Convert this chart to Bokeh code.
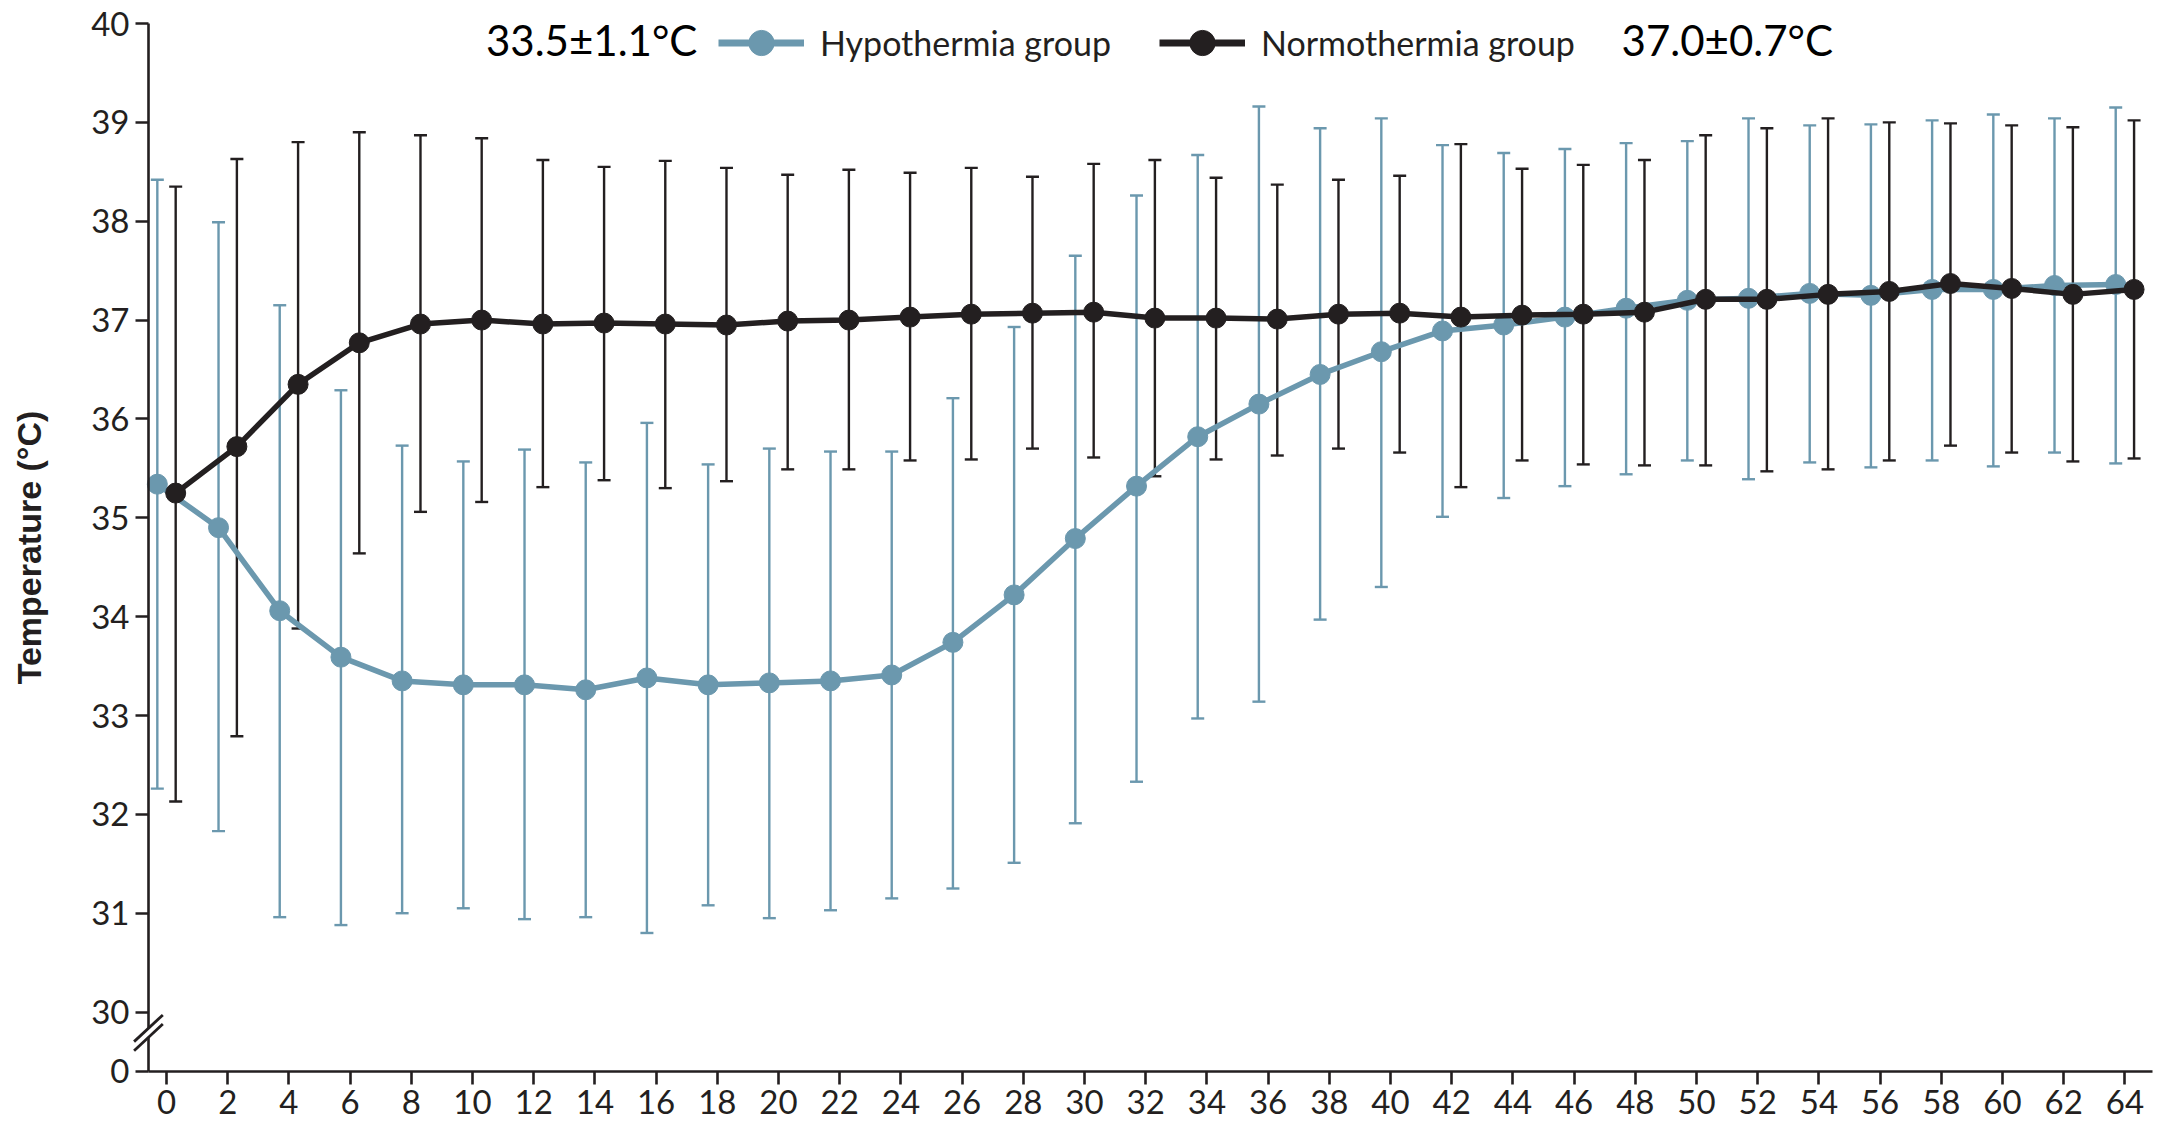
from bokeh.plotting import figure
from bokeh.models import (ColumnDataSource, Whisker, TeeHead, FixedTicker, Legend,
                          LegendItem, Label, Range1d)
from bokeh.embed import file_html
from bokeh.resources import INLINE

# ---------------- data ----------------
hours = list(range(0, 66, 2))

hypo_mean = [35.34, 34.90, 34.06, 33.59, 33.35, 33.31, 33.31, 33.26, 33.38, 33.31, 33.33,
             33.35, 33.41, 33.74, 34.22, 34.79, 35.32, 35.82, 36.15, 36.45, 36.68, 36.89,
             36.95, 37.03, 37.12, 37.20, 37.22, 37.27, 37.25, 37.31, 37.31, 37.35, 37.36]
hypo_upper = [38.42, 37.99, 37.15, 36.29, 35.73, 35.57, 35.69, 35.56, 35.96, 35.54, 35.70,
              35.67, 35.67, 36.21, 36.93, 37.65, 38.26, 38.67, 39.16, 38.94, 39.04, 38.77,
              38.69, 38.73, 38.79, 38.81, 39.04, 38.97, 38.98, 39.02, 39.08, 39.04, 39.15]
hypo_lower = [32.26, 31.83, 30.96, 30.88, 31.00, 31.05, 30.94, 30.96, 30.80, 31.08, 30.95,
              31.03, 31.15, 31.25, 31.51, 31.91, 32.33, 32.97, 33.14, 33.97, 34.30, 35.01,
              35.20, 35.32, 35.44, 35.58, 35.39, 35.56, 35.51, 35.58, 35.52, 35.66, 35.55]

normo_mean = [35.25, 35.72, 36.35, 36.77, 36.96, 37.00, 36.96, 36.97, 36.96, 36.95, 36.99,
              37.00, 37.03, 37.06, 37.07, 37.08, 37.02, 37.02, 37.01, 37.06, 37.07, 37.03,
              37.05, 37.06, 37.08, 37.21, 37.21, 37.26, 37.29, 37.37, 37.32, 37.26, 37.31]
normo_upper = [38.35, 38.63, 38.80, 38.90, 38.87, 38.84, 38.62, 38.55, 38.61, 38.54, 38.47,
               38.52, 38.49, 38.54, 38.45, 38.58, 38.62, 38.44, 38.37, 38.42, 38.46, 38.78,
               38.53, 38.57, 38.62, 38.87, 38.94, 39.04, 39.00, 38.99, 38.97, 38.95, 39.02]
normo_lower = [32.13, 32.79, 33.88, 34.64, 35.06, 35.16, 35.31, 35.38, 35.30, 35.37, 35.49,
               35.49, 35.58, 35.59, 35.70, 35.61, 35.42, 35.59, 35.63, 35.70, 35.66, 35.31,
               35.58, 35.54, 35.53, 35.53, 35.47, 35.49, 35.58, 35.73, 35.66, 35.57, 35.60]

series_names = ["Hypothermia group", "Normothermia group"]
series_notes = ["33.5±1.1°C", "37.0±0.7°C"]

x_ticks = list(range(0, 66, 2))
y_break = 29.4          # axis-break level that is labelled "0"
y_top = 40
y_ticks = [y_break] + list(range(30, 41))
y_tick_labels = ["0"] + [str(v) for v in range(30, 41)]

# ---------------- style ----------------
BLUE = "#6B98AE"
DARK = "#231F20"
FONT = "Lato"
DODGE = 0.3
X0 = -0.59           # where the y axis stands
XR = 64.9            # where the x axis ends
W, H = 2165, 1130

src_h = ColumnDataSource(dict(x=[h - DODGE for h in hours], m=hypo_mean,
                              up=hypo_upper, lo=hypo_lower))
src_n = ColumnDataSource(dict(x=[h + DODGE for h in hours], m=normo_mean,
                              up=normo_upper, lo=normo_lower))

# the frame covers the whole canvas; both axes are pinned inside it
p = figure(width=W, height=H, x_range=Range1d(-5.425, 65.327),
           y_range=Range1d(28.802, 40.2327), output_backend="svg",
           toolbar_location=None, min_border=0)
p.outline_line_color = None
p.grid.visible = False
p.background_fill_color = "white"

# error bars
for src, col in ((src_h, BLUE), (src_n, DARK)):
    w = Whisker(source=src, base="x", upper="up", lower="lo", dimension="height",
                line_color=col, line_width=2.4,
                upper_head=TeeHead(size=13, line_color=col, line_width=2.4),
                lower_head=TeeHead(size=13, line_color=col, line_width=2.4),
                level="underlay")
    p.add_layout(w)

rh_l = p.line("x", "m", source=src_h, line_color=BLUE, line_width=5.5)
rh_c = p.scatter("x", "m", source=src_h, size=20, fill_color=BLUE, line_color=BLUE)
rn_l = p.line("x", "m", source=src_n, line_color=DARK, line_width=5.5)
rn_c = p.scatter("x", "m", source=src_n, size=20, fill_color=DARK, line_color=DARK)

# hidden twins that only give the legend its heavier sample glyphs
lg = {}
for key, src, col in (("h", src_h, BLUE), ("n", src_n, DARK)):
    lg[key] = [p.line("x", "m", source=src, line_color=col, line_width=7, visible=False),
               p.scatter("x", "m", source=src, size=25, fill_color=col, line_color=col,
                         visible=False)]

# axes
for ax in (p.xaxis[0], p.yaxis[0]):
    ax.axis_line_color = DARK
    ax.axis_line_width = 2.6
    ax.major_tick_line_color = DARK
    ax.major_tick_line_width = 2.6
    ax.major_tick_in = 0
    ax.major_tick_out = 13
    ax.minor_tick_line_color = None
    ax.major_label_text_font = FONT
    ax.major_label_text_font_size = "33px"
    ax.major_label_text_color = DARK

p.xaxis.ticker = FixedTicker(ticks=x_ticks)
p.xaxis.major_label_standoff = 6
p.xaxis.bounds = (X0, XR)
p.xaxis.fixed_location = y_break
p.yaxis.ticker = FixedTicker(ticks=y_ticks)
p.yaxis.major_label_overrides = {t: l for t, l in zip(y_ticks, y_tick_labels)}
p.yaxis.major_label_standoff = 6
p.yaxis.bounds = (y_break, y_top)
p.yaxis.fixed_location = X0
p.yaxis.axis_label = "Temperature (°C)"
p.yaxis.axis_label_text_font = "Liberation Sans"
p.yaxis.axis_label_text_font_style = "bold"
p.yaxis.axis_label_text_font_size = "34px"
p.yaxis.axis_label_text_color = DARK
p.yaxis.axis_label_standoff = 40

# axis-break marks: white gap in the axis, then two slashes
BY, BDX, BDY, BSEP = 29.79, 0.47, 0.135, 0.046
p.patch([X0 - BDX, X0 + BDX, X0 + BDX, X0 - BDX],
        [BY + BSEP - BDY, BY + BSEP + BDY, BY - BSEP + BDY, BY - BSEP - BDY],
        fill_color="white", line_color=None, level="overlay")
p.segment(x0=[X0 - BDX] * 2, y0=[BY + BSEP - BDY, BY - BSEP - BDY],
          x1=[X0 + BDX] * 2, y1=[BY + BSEP + BDY, BY - BSEP + BDY],
          line_color=DARK, line_width=2.8, level="overlay")

# legend (marker in a legend is drawn at 0.4 x the glyph box, so the box is 63 px)
legend = Legend(items=[LegendItem(label=series_names[0], renderers=lg["h"]),
                       LegendItem(label=series_names[1], renderers=lg["n"])],
                orientation="horizontal", location=(718, 1056),
                glyph_width=86, glyph_height=63, label_height=63,
                label_standoff=16, spacing=48, padding=0, margin=0,
                border_line_color=None, background_fill_alpha=0,
                label_text_font=FONT, label_text_font_size="34px",
                label_text_color=DARK)
p.add_layout(legend)

p.add_layout(Label(x=17.35, y=39.83, text=series_notes[0], text_align="right",
                   text_baseline="middle", text_font=FONT, text_font_size="42px",
                   text_color="black"))
p.add_layout(Label(x=47.55, y=39.83, text=series_notes[1], text_align="left",
                   text_baseline="middle", text_font=FONT, text_font_size="42px",
                   text_color="black"))

open("out.html", "w").write(file_html(p, INLINE))
